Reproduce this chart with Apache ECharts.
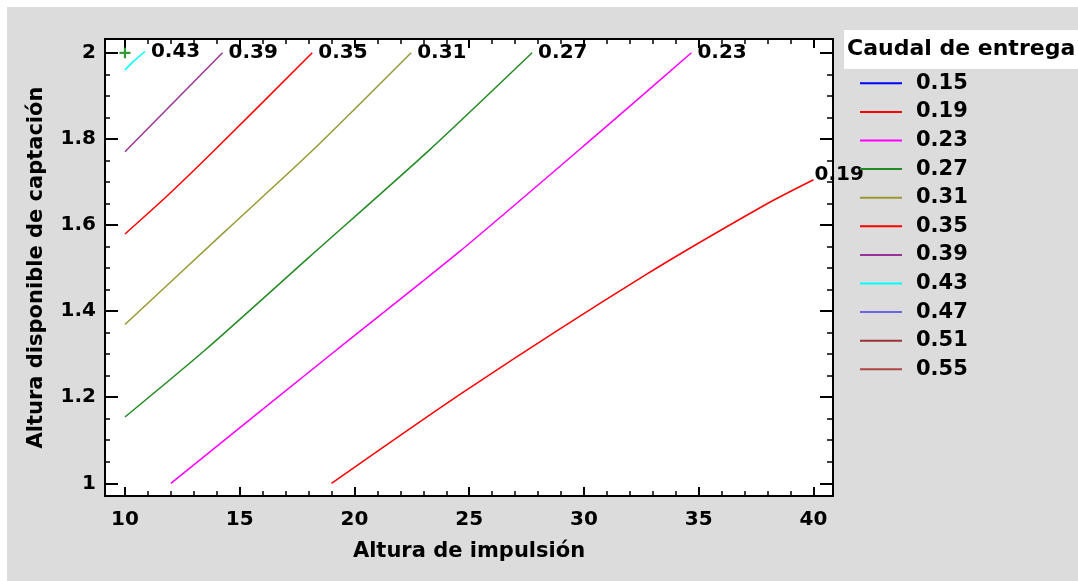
<!DOCTYPE html>
<html>
<head>
<meta charset="utf-8">
<script src="https://cdn.jsdelivr.net/npm/echarts@6/dist/echarts.min.js"></script>
<style>
  html, body { margin: 0; padding: 0; }
  #main { width: 1078px; height: 581px; }
</style>
</head>
<body>
<div id="main"></div>
<script>
  // contour levels (legend) and lines: [altura impulsion, altura captacion]
  var levels = ['0.15', '0.19', '0.23', '0.27', '0.31', '0.35', '0.39', '0.43', '0.47', '0.51', '0.55'];
  var c015 = [];
  var c019 = [[19.0, 1.0], [24.86, 1.216], [32.68, 1.484], [37.9, 1.647], [40.0, 1.705]];
  var c023 = [[12.0, 1.0], [19.2, 1.309], [24.57, 1.538], [30.65, 1.814], [34.68, 2.0]];
  var c027 = [[10.0, 1.154], [13.48, 1.309], [18.04, 1.526], [23.26, 1.774], [27.74, 2.0]];
  var c031 = [[10.0, 1.369], [14.42, 1.588], [18.19, 1.774], [22.47, 2.0]];
  var c035 = [[10.0, 1.579], [11.81, 1.666], [13.91, 1.774], [18.16, 2.0]];
  var c039 = [[10.0, 1.77], [14.25, 2.0]];
  var c043 = [[10.0, 1.96], [10.37, 1.98], [10.87, 2.003]];
  var c047 = [];
  var c051 = [];
  var c055 = [];
  var optimum = [[10.0, 2.0]];

  var xMajor = [10, 15, 20, 25, 30, 35, 40];
  var xMinor = [10, 11, 12, 13, 14, 15, 16, 17, 18, 19, 20, 21, 22, 23, 24, 25,
                26, 27, 28, 29, 30, 31, 32, 33, 34, 35, 36, 37, 38, 39, 40];
  var yMajor = [1, 1.2, 1.4, 1.6, 1.8, 2];
  var yMinor = [1, 1.05, 1.1, 1.15, 1.2, 1.25, 1.3, 1.35, 1.4, 1.45, 1.5, 1.55,
                1.6, 1.65, 1.7, 1.75, 1.8, 1.85, 1.9, 1.95, 2];

  var lines = [c015, c019, c023, c027, c031, c035, c039, c043, c047, c051, c055];
  var colors = ['#0000ff', '#ff0000', '#ff00ff', '#228b22', '#999933', '#ff0000',
                '#993399', '#00ffff', '#6e64e6', '#993333', '#b04545'];
  var labelOffset = { '0.19': [-5, -5] };

  var chartDom = document.getElementById('main');
  var myChart = echarts.init(chartDom);

  var black = '#000';
  var XMIN = 9.13, XMAX = 40.85, YMIN = 0.9705, YMAX = 2.032;

  function xAxisOf(pos, values, len, width, withLabel) {
    return {
      type: 'value', position: pos, min: XMIN, max: XMAX,
      axisLine: { show: withLabel !== null, lineStyle: { color: black, width: 2 } },
      axisTick: { show: true, inside: true, length: len, customValues: values, lineStyle: { color: black, width: width } },
      axisLabel: withLabel ? { show: true, customValues: values, color: black, fontSize: 20, fontWeight: 'bold', margin: 14 } : { show: false },
      splitLine: { show: false }
    };
  }
  function yAxisOf(pos, values, len, width, withLabel) {
    return {
      type: 'value', position: pos, min: YMIN, max: YMAX,
      axisLine: { show: withLabel !== null, lineStyle: { color: black, width: 2 } },
      axisTick: { show: true, inside: true, length: len, customValues: values, lineStyle: { color: black, width: width } },
      axisLabel: withLabel ? { show: true, customValues: values, color: black, fontSize: 20, fontWeight: 'bold', margin: 9 } : { show: false },
      splitLine: { show: false }
    };
  }

  var xAxes = [
    xAxisOf('bottom', xMajor, 9, 2, true),
    xAxisOf('bottom', xMinor, 5, 1.5, null),
    xAxisOf('top', xMajor, 9, 2, false),
    xAxisOf('top', xMinor, 5, 1.5, null)
  ];
  xAxes[0].name = 'Altura de impulsión';
  xAxes[0].nameLocation = 'middle';
  xAxes[0].nameGap = 45;
  xAxes[0].nameTextStyle = { color: black, fontSize: 21, fontWeight: 'bold' };

  var yAxes = [
    yAxisOf('left', yMajor, 13, 2, true),
    yAxisOf('left', yMinor, 5, 1.5, null),
    yAxisOf('right', yMajor, 13, 2, false),
    yAxisOf('right', yMinor, 6, 1.5, null)
  ];
  yAxes[0].name = 'Altura disponible de captación';
  yAxes[0].nameLocation = 'middle';
  yAxes[0].nameGap = 58;
  yAxes[0].nameTextStyle = { color: black, fontSize: 21, fontWeight: 'bold' };

  var series = levels.map(function (lv, i) {
    return {
      name: lv,
      type: 'line',
      data: lines[i],
      showSymbol: false,
      smooth: 0.25,
      color: colors[i],
      lineStyle: { width: 1.5, color: colors[i] },
      endLabel: {
        show: lines[i].length > 0,
        formatter: '{a}',
        color: black,
        fontSize: 20,
        fontWeight: 'bold',
        distance: 6,
        offset: labelOffset[lv] || [0, 0]
      },
      emphasis: { disabled: true },
      z: 3
    };
  });
  series.push({
    name: 'optimo',
    type: 'scatter',
    data: optimum,
    symbol: 'path://M4,0h2v4h4v2h-4v4h-2v-4h-4v-2h4z',
    symbolSize: 11,
    itemStyle: { color: '#008000' },
    z: 4
  });

  var option = {
    animation: false,
    backgroundColor: '#dcdcdc',
    textStyle: { fontFamily: 'DejaVu Sans' },
    graphic: [
      { type: 'rect', left: 0, top: 0, shape: { width: 1078, height: 7 }, style: { fill: '#fff' }, silent: true },
      { type: 'rect', left: 0, top: 0, shape: { width: 7, height: 581 }, style: { fill: '#fff' }, silent: true }
    ],
    title: {
      text: 'Caudal de entrega',
      left: 844,
      top: 30,
      padding: [8, 12, 9, 3],
      backgroundColor: '#fff',
      textStyle: { color: black, fontSize: 22, fontWeight: 'bold' }
    },
    legend: {
      data: levels,
      orient: 'vertical',
      left: 860,
      top: 69,
      padding: 0,
      itemWidth: 42,
      itemHeight: 2,
      itemGap: 0,
      icon: 'rect',
      selectedMode: false,
      textStyle: { color: black, fontSize: 21, fontWeight: 'bold', lineHeight: 28.6, padding: [0, 0, 0, 9] }
    },
    grid: {
      left: 105, top: 39, width: 728, height: 457,
      show: true, backgroundColor: '#fff', borderWidth: 0
    },
    xAxis: xAxes,
    yAxis: yAxes,
    series: series
  };

  myChart.setOption(option);
</script>
</body>
</html>
